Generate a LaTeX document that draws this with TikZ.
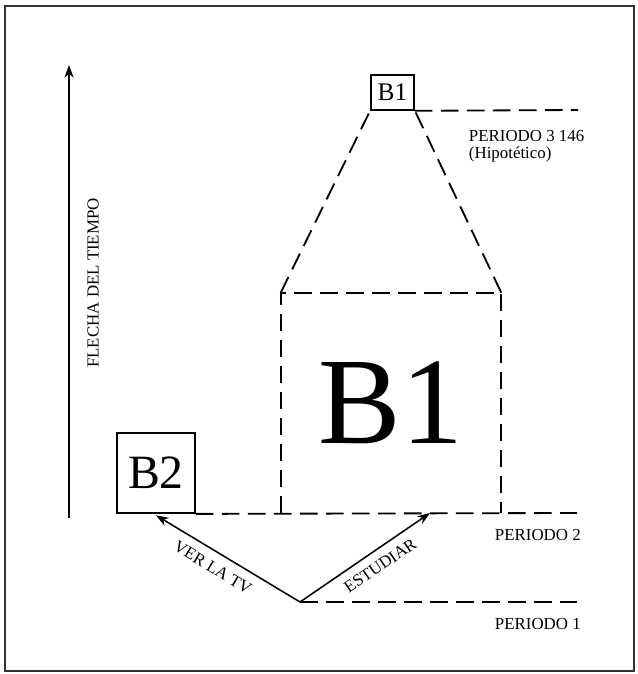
\documentclass[tikz,border=0pt]{standalone}
\usepackage{fontspec}
\setmainfont{Liberation Serif}
\usetikzlibrary{positioning,arrows.meta}

\begin{document}
\begin{tikzpicture}[
    timeBox/.style={rectangle,draw=black,line width=1.3pt,inner sep=0pt},
    timeDash/.style={dash pattern=on 12.5pt off 6pt,line width=1.3pt},
    timeArrow/.style={-{Stealth[length=9pt,width=6.5pt]},line width=1.1pt},
    timeLabel/.style={font=\fontsize{12}{12.5}\selectfont},
]
\useasboundingbox (0,0) rectangle (15.925,16.85);
\draw[line width=1.6pt,black!80] (0.125,0.075) rectangle (15.85,16.7);
% time axis
\coordinate (tBot) at (1.725,3.9);
\coordinate (tTop) at (1.725,15.225);
\draw[timeArrow] (tBot) -- (tTop);
\node[timeLabel,rotate=90] (flecha) at (2.325,9.775) {FLECHA DEL TIEMPO};
% boxes
\node[timeBox,minimum width=1.95cm,minimum height=2.0cm,font=\fontsize{34}{36}\selectfont] (boxB2) at (3.9,5.025) {B2};
\node[rectangle,inner sep=0pt,minimum width=5.5cm,minimum height=5.5cm,font=\fontsize{88}{90}\selectfont] (bigB1) at (9.775,6.775) {B1};
\node[timeBox,minimum width=1.075cm,minimum height=0.875cm,font=\fontsize{18}{20}\selectfont] (smallB1) at (9.8125,14.54) {B1};
\draw[timeDash] (bigB1.south west) -- (bigB1.north west) -- (bigB1.north east) -- (bigB1.south east);
\draw[timeDash] (bigB1.north west) -- (smallB1.south west);
\draw[timeDash] (bigB1.north east) -- (smallB1.south east);
% period lines
\coordinate (orig) at (7.5,1.8);
\coordinate (p1End) at (14.425,1.8);
\coordinate (p2End) at (14.425,4.025);
\coordinate (p3End) at (14.45,14.1);
\coordinate (estEnd) at (10.75,4.025);
\draw[timeDash] (orig) -- (p1End);
\draw[timeDash] (boxB2.south east) -- (p2End);
\draw[timeDash] (smallB1.south east) -- (p3End);
\node[timeLabel,anchor=west] (per1) at (12.25,1.25) {PERIODO 1};
\node[timeLabel,anchor=west] (per2) at (12.25,3.475) {PERIODO 2};
\node[timeLabel,anchor=north west,align=left] (per3) at (11.6,13.72) {PERIODO 3 146\\(Hipotético)};
% choices
\draw[timeArrow,{Stealth[length=9pt,width=6.5pt]}-] ([yshift=-1pt]boxB2.south) -- (orig) node[timeLabel,pos=0.45,sloped,below=3pt] (verTV) {VER LA TV};
\draw[timeArrow] (orig) -- (estEnd) node[timeLabel,pos=0.55,sloped,below=3pt] (estud) {ESTUDIAR};
\end{tikzpicture}
\end{document}
